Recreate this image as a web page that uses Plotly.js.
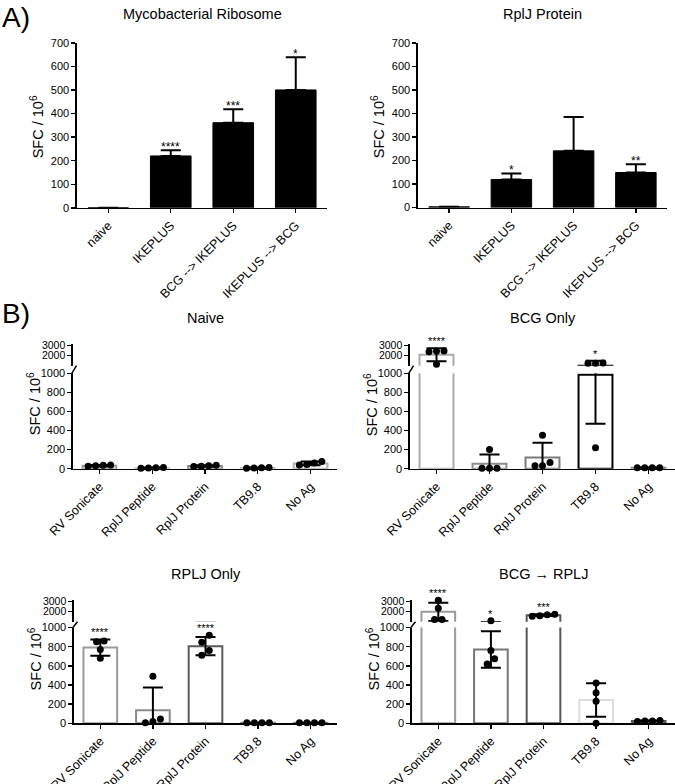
<!DOCTYPE html>
<html><head><meta charset="utf-8">
<script src="https://cdn.plot.ly/plotly-3.0.1.min.js"></script>
<style>html,body{margin:0;padding:0;background:#fff}</style>
</head><body><div id="chart" style="width:675px;height:784px"></div>
<script>
// ---------------- DATA ----------------
const groupsA = ['naive', 'IKEPLUS', 'BCG --> IKEPLUS', 'IKEPLUS --> BCG'];
const riboMean = [0, 220, 361, 500];
const riboErr  = [0, 24, 57, 139];
const riboSig  = ['', '****', '***', '*'];
const rpljMean = [3, 119, 241, 149];
const rpljErr  = [0, 26, 144, 35];
const rpljSig  = ['', '*', '', '**'];

const antigens = ['RV Sonicate', 'RplJ Peptide', 'RplJ Protein', 'TB9.8', 'No Ag'];

const naiveMean = [32, 8, 28, 8, 55];
const naiveSD   = [8, 4, 8, 4, 20];
const naivePts  = [[25, 30, 40, 35], [5, 10, 8, 12], [22, 35, 25, 30], [5, 10, 8, 12], [75, 60, 40, 45]];
const naiveSig  = ['', '', '', '', ''];

const bcgMean = [2100, 52, 118, 985, 10];
const bcgSD   = [650, 98, 155, 515, 2];
const bcgPts  = [[2450, 2480, 2400, 1150], [200, 5, 5, 5], [350, 65, 30, 30], [1250, 1260, 1240, 220], [10, 10, 10, 10]];
const bcgSig  = ['****', '', '', '*', ''];

const rpljOnlyMean = [790, 135, 805, 5, 5];
const rpljOnlySD   = [85, 240, 95, 1, 1];
const rpljOnlyPts  = [[860, 850, 770, 680], [490, 45, 5, 20], [920, 845, 760, 710], [5, 5, 5, 5], [5, 5, 5, 5]];
const rpljOnlySig  = ['****', '', '****', '', ''];

const bcgRpljMean = [1980, 770, 1650, 243, 25];
const bcgRpljSD   = [900, 190, 90, 175, 4];
const bcgRpljPts  = [[3130, 2330, 1230, 1230], [1100, 760, 675, 620], [1700, 1550, 1600, 1750], [420, 320, 230, 0], [20, 25, 25, 30]];
const bcgRpljSig  = ['****', '*', '***', '', ''];

// ---------------- STYLE / LAYOUT ----------------
const FONT = "'Liberation Sans', Arial, Helvetica, sans-serif";
const W = 675, H = 784;
const fx = p => p / W;
const fy = p => 1 - p / H;
const xName = n => n === 1 ? 'xaxis' : 'xaxis' + n;
const yName = n => n === 1 ? 'yaxis' : 'yaxis' + n;
const xRef = n => n === 1 ? 'x' : 'x' + n;
const yRef = n => n === 1 ? 'y' : 'y' + n;

const layout = {
  width: W, height: H, margin: {l: 0, r: 0, t: 0, b: 0},
  paper_bgcolor: '#fff', plot_bgcolor: 'rgba(0,0,0,0)', showlegend: false,
  font: {family: FONT, color: '#000'}, annotations: [], shapes: [], bargap: 0
};
const traces = [];
const axBase = {
  showgrid: false, zeroline: false, showline: true, linecolor: '#000', linewidth: 1.6,
  ticks: 'outside', ticklen: 4, tickwidth: 1.4, tickcolor: '#000',
  tickfont: {size: 11, color: '#000', family: FONT}, fixedrange: true
};

function addTitle(text, xc, yc) {
  layout.annotations.push({xref: 'paper', yref: 'paper', x: fx(xc), y: fy(yc), text: text,
    showarrow: false, xanchor: 'center', yanchor: 'middle', font: {size: 14.5, family: FONT}});
}
function addYTitle(xc, yc) {
  layout.annotations.push({xref: 'paper', yref: 'paper', x: fx(xc), y: fy(yc), text: 'SFC / 10<sup>6</sup>',
    textangle: -90, showarrow: false, xanchor: 'center', yanchor: 'middle', font: {size: 14.5, family: FONT}});
}

function addPanelA(n, g, cats, mean, err, sig, title) {
  const idx = cats.map((c, i) => i);
  layout[xName(n)] = Object.assign({}, axBase, {
    domain: [fx(g.x0), fx(g.x1)], anchor: yRef(n), range: [-0.5, cats.length - 0.5],
    tickvals: idx, ticktext: cats, tickangle: -45, tickfont: {size: 12.5, family: FONT, color: '#000'}
  });
  layout[yName(n)] = Object.assign({}, axBase, {
    domain: [fy(g.yb), fy(g.yt)], anchor: xRef(n), range: [0, 700], tickvals: [0, 100, 200, 300, 400, 500, 600, 700]
  });
  traces.push({type: 'bar', x: idx, y: mean, xaxis: xRef(n), yaxis: yRef(n), width: 0.65,
    marker: {color: '#000', line: {color: '#000', width: 1}},
    error_y: {type: 'data', symmetric: false, array: err, arrayminus: err.map(() => 0),
      color: '#000', thickness: 2, width: 10}});
  sig.forEach((s, i) => {
    if (s) layout.annotations.push({xref: xRef(n), yref: yRef(n), x: i, y: mean[i] + err[i], text: s,
      showarrow: false, yanchor: 'bottom', yshift: -6, font: {size: 12, family: FONT}});
  });
  addTitle(title, (g.x0 + g.x1) / 2, 14);
  addYTitle(g.x0 - 40, (g.yb + g.yt) / 2 + 2);
}

function addPanelB(xn, ylo, yup, g, cats, mean, sd, pts, sig, colors, title) {
  const nC = cats.length;
  const idx = cats.map((c, i) => i);
  const kLow = (g.lb - g.lt) / 1000, kUp = (g.ub - g.ut) / 2000;
  const toPx = v => v <= 1000 ? v * kLow : (g.lb - g.lt) + (g.lt - g.ub) + (v - 1000) * kUp;
  const catPx = (g.x1 - g.x0) / nC;
  const upMax = 3150;                         // headroom so dots just above 3000 stay visible
  const utExt = g.ub - (upMax - 1000) * kUp;  // pixel top of the upper segment

  layout[xName(xn)] = Object.assign({}, axBase, {
    domain: [fx(g.x0), fx(g.x1)], anchor: yRef(ylo), range: [-0.5, nC - 0.5],
    tickvals: idx, ticktext: cats, tickangle: -45, tickfont: {size: 12.5, family: FONT, color: '#000'}
  });
  layout[yName(ylo)] = Object.assign({}, axBase, {
    domain: [fy(g.lb), fy(g.lt)], anchor: xRef(xn), range: [0, 1000], tickvals: [0, 200, 400, 600, 800, 1000]
  });
  layout[yName(yup)] = Object.assign({}, axBase, {
    domain: [fy(g.ub), fy(utExt)], anchor: xRef(xn), range: [1000, upMax], tickvals: [2000, 3000],
    tickfont: {size: 10.5, color: '#000', family: FONT}
  });

  [ylo, yup].forEach(yn => {
    traces.push({type: 'bar', x: idx, y: mean, xaxis: xRef(xn), yaxis: yRef(yn), width: 0.64,
      marker: {color: '#fff', line: {color: colors, width: 2}}});
    traces.push({type: 'scatter', mode: 'markers', x: idx, y: mean, xaxis: xRef(xn), yaxis: yRef(yn),
      cliponaxis: true, marker: {size: 1, color: 'rgba(0,0,0,0)'}, hoverinfo: 'skip',
      error_y: {type: 'data', array: sd, color: '#000', thickness: 2, width: 10}});
  });

  // points, spread horizontally where they overlap (dot-plot style)
  const d = 7.5;
  const lowX = [], lowY = [], upX = [], upY = [];
  pts.forEach((vals, ci) => {
    const order = vals.map((v, i) => i).sort((a, b) => vals[a] - vals[b]);
    const offs = new Array(vals.length).fill(0);
    let cluster = [order[0]];
    const flush = () => { const m = cluster.length; cluster.forEach((id, k) => { offs[id] = (k - (m - 1) / 2) * d; }); };
    for (let k = 1; k < order.length; k++) {
      if (Math.abs(toPx(vals[order[k]]) - toPx(vals[order[k - 1]])) < d) cluster.push(order[k]);
      else { flush(); cluster = [order[k]]; }
    }
    flush();
    vals.forEach((v, i) => {
      const xv = ci + offs[i] / catPx;
      if (v <= 1000) { lowX.push(xv); lowY.push(v); } else { upX.push(xv); upY.push(v); }
    });
  });
  traces.push({type: 'scatter', mode: 'markers', x: lowX, y: lowY, xaxis: xRef(xn), yaxis: yRef(ylo),
    cliponaxis: false, marker: {size: 7, color: '#000'}});
  traces.push({type: 'scatter', mode: 'markers', x: upX, y: upY, xaxis: xRef(xn), yaxis: yRef(yup),
    cliponaxis: false, marker: {size: 7, color: '#000'}});

  sig.forEach((s, i) => {
    if (!s) return;
    const top = Math.max(mean[i] + sd[i], Math.max.apply(null, pts[i]));
    layout.annotations.push({xref: xRef(xn), yref: yRef(top > 1000 ? yup : ylo), x: i, y: top, text: s,
      showarrow: false, yanchor: 'bottom', yshift: -1, font: {size: 11, family: FONT}});
  });

  // axis break mark
  layout.shapes.push({type: 'line', xref: 'paper', yref: 'paper',
    x0: fx(g.x0 - 1.5), y0: fy(g.lt + 0.5), x1: fx(g.x0 + 3.5), y1: fy(g.ub),
    line: {color: '#000', width: 1.5}});

  addTitle(title, (g.x0 + g.x1) / 2, g.ty);
  addYTitle(g.x0 - 39, (g.lb + g.ut) / 2 - 3);
}

addPanelA(1, {x0: 77, x1: 327, yb: 207.8, yt: 42.8}, groupsA, riboMean, riboErr, riboSig, 'Mycobacterial Ribosome');
addPanelA(2, {x0: 418, x1: 667, yb: 207.5, yt: 43}, groupsA, rpljMean, rpljErr, rpljSig, 'RplJ Protein');

const topRow = {lb: 468.7, lt: 373.3, ub: 365.7, ut: 345.7, ty: 318};
const botRow = {lb: 723.3, lt: 627.5, ub: 621.7, ut: 601.5, ty: 573.5};

addPanelB(3, 3, 4, Object.assign({x0: 73, x1: 337}, topRow), antigens, naiveMean, naiveSD, naivePts, naiveSig,
  ['#9a9a9a', '#c8c8c8', '#8a8a8a', '#bbbbbb', '#b0b0b0'], 'Naive');
addPanelB(4, 5, 6, Object.assign({x0: 410, x1: 675}, topRow), antigens, bcgMean, bcgSD, bcgPts, bcgSig,
  ['#aaaaaa', '#8c8c8c', '#7a7a7a', '#000000', '#888888'], 'BCG Only');
addPanelB(5, 7, 8, Object.assign({x0: 74, x1: 337}, botRow), antigens, rpljOnlyMean, rpljOnlySD, rpljOnlyPts, rpljOnlySig,
  ['#9a9a9a', '#8a8a8a', '#5a5a5a', '#888888', '#888888'], 'RPLJ Only');
addPanelB(6, 9, 10, Object.assign({x0: 412, x1: 675}, botRow), antigens, bcgRpljMean, bcgRpljSD, bcgRpljPts, bcgRpljSig,
  ['#9a9a9a', '#777777', '#555555', '#dddddd', '#555555'], 'BCG \u2192 RPLJ');

// panel letters
layout.annotations.push({xref: 'paper', yref: 'paper', x: 0, y: fy(0), text: 'A)', showarrow: false,
  xanchor: 'left', yanchor: 'top', font: {size: 28, family: FONT}});
layout.annotations.push({xref: 'paper', yref: 'paper', x: 0, y: fy(296), text: 'B)', showarrow: false,
  xanchor: 'left', yanchor: 'top', font: {size: 28, family: FONT}});

Plotly.newPlot('chart', traces, layout, {staticPlot: true, displayModeBar: false});
</script>
</body></html>
